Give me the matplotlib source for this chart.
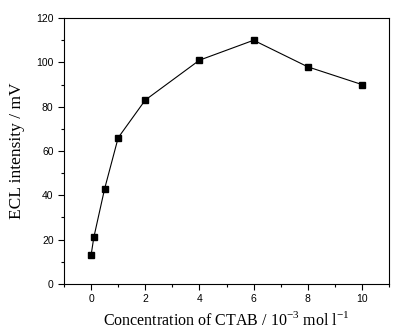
import matplotlib
matplotlib.use("Agg")
import matplotlib.pyplot as plt
from matplotlib.ticker import MultipleLocator

# CTAB concentration (10^-3 mol/l) and ECL intensity (mV)
conc = [0, 0.1, 0.5, 1, 2, 4, 6, 8, 10]
ecl = [13, 21, 43, 66, 83, 101, 110, 98, 90]

plt.rcParams['mathtext.fontset'] = 'custom'
plt.rcParams['mathtext.rm'] = 'Liberation Serif'

fig = plt.figure(figsize=(4.13, 3.29), dpi=100)
ax = fig.add_axes([0.155, 0.137, 0.787, 0.808])

ax.plot(conc, ecl, color='black', linewidth=0.8, marker='s',
        markersize=4.5, markerfacecolor='black', markeredgecolor='black')

ax.set_xlim(-1, 11)
ax.set_ylim(0, 120)
ax.xaxis.set_major_locator(MultipleLocator(2))
ax.xaxis.set_minor_locator(MultipleLocator(1))
ax.yaxis.set_major_locator(MultipleLocator(20))
ax.yaxis.set_minor_locator(MultipleLocator(10))
ax.tick_params(which='both', direction='out', top=False, right=False,
               width=0.8)
ax.tick_params(which='major', length=4, labelsize=7.5)
ax.tick_params(which='minor', length=2.5)
for lab in ax.get_xticklabels() + ax.get_yticklabels():
    lab.set_family('Liberation Sans')
for s in ax.spines.values():
    s.set_linewidth(0.8)

ax.set_xlabel(r'Concentration of CTAB / 10$^{\mathregular{-3}}$ mol l$^{\mathregular{-1}}$',
              family='Liberation Serif', fontsize=11.5, labelpad=5)
ax.set_ylabel('ECL intensity / mV', family='Liberation Serif',
              fontsize=12.5, labelpad=8)

fig.savefig('out.png', dpi=100)
